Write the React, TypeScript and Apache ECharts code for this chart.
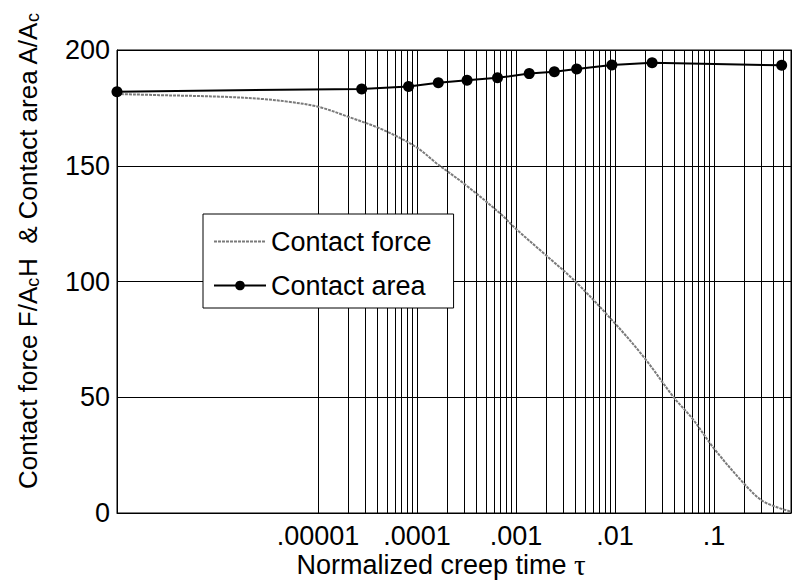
import React, { useEffect, useRef } from "react";
import * as echarts from "echarts";

const FONT = "'Liberation Sans', Arial, sans-serif";

const X_MIN = 9.3e-8;
const X_MAX = 0.6;

// Contact force curve (normalized creep time, F/AcH)
const forceTau = [9.3e-8, 2.5e-7, 1.1e-6, 2.8e-6, 4.9e-6, 1e-5, 2e-5, 4.6e-5, 1e-4, 1.58e-4, 3.1e-4, 6.9e-4, 1e-3, 2e-3, 4e-3, 1e-2, 2e-2, 4e-2, 6e-2, 0.1, 0.2, 0.3, 0.42, 0.6];
const forceVal = [181, 180.5, 179.8, 178.8, 177.7, 175.5, 171.2, 165.4, 157.8, 151, 141.7, 129.4, 122.7, 111.4, 99.9, 81.9, 66.8, 49.5, 41, 27.9, 12.8, 5.6, 2.7, 0.6];

// Contact area points (A/Ac)
const areaTau = [9.3e-8, 2.76e-5, 8.2e-5, 1.64e-4, 3.2e-4, 6.5e-4, 1.36e-3, 2.44e-3, 4.1e-3, 9.3e-3, 2.37e-2, 0.483];
const areaVal = [182.0, 183.2, 184.2, 185.9, 186.9, 188.0, 189.8, 190.6, 191.8, 193.5, 194.5, 193.4];

// Tick labels
const tickValues = [1e-5, 1e-4, 1e-3, 1e-2, 1e-1];
const tickLabels = [".00001", ".0001", ".001", ".01", ".1"];

// Log grid lines (decades and multipliers)
const gridDecades = [1e-5, 1e-4, 1e-3, 1e-2, 1e-1];
const gridMultipliers = [1, 2, 3, 4, 5, 6, 7, 8, 9];

const Y_MIN = 0;
const Y_MAX = 200;

const seriesNames = ["Contact force", "Contact area"];

export default function App() {
  const ref = useRef<HTMLDivElement>(null);

  useEffect(() => {
    if (!ref.current) return;
    const chart = echarts.init(ref.current, undefined, { renderer: "svg" });

    const gridTau: number[] = [];
    gridDecades.forEach((d) => {
      gridMultipliers.forEach((m) => {
        const v = d * m;
        if (v < X_MAX * 0.999) gridTau.push(v);
      });
    });

    const labelFor = (v: number) => {
      for (let i = 0; i < tickValues.length; i++) {
        if (Math.abs(Math.log10(v) - Math.log10(tickValues[i])) < 1e-6) return tickLabels[i];
      }
      return "";
    };

    const option: any = {
      animation: false,
      backgroundColor: "#fff",
      textStyle: { fontFamily: FONT },
      grid: {
        left: 117,
        right: 2,
        top: 50,
        bottom: 71,
        show: true,
        borderColor: "#000",
        borderWidth: 1,
        backgroundColor: "transparent",
      },
      legend: {
        orient: "vertical",
        left: 203,
        top: 214,
        backgroundColor: "#fff",
        borderColor: "#000",
        borderWidth: 1,
        borderRadius: 0,
        padding: [14, 22, 9, 10],
        itemWidth: 52,
        itemHeight: 12,
        itemGap: 17,
        textStyle: { fontSize: 27, color: "#000", fontFamily: FONT },
        data: [
          { name: seriesNames[0], itemStyle: { color: "rgba(0,0,0,0)", opacity: 0, borderWidth: 0 } },
          { name: seriesNames[1] },
        ],
      },
      xAxis: {
        type: "log",
        logBase: 10,
        min: X_MIN,
        max: X_MAX,
        axisLine: { show: true, lineStyle: { color: "#000", width: 1 } },
        axisTick: { show: false },
        splitLine: { show: false },
        axisLabel: {
          fontSize: 27,
          color: "#000",
          fontFamily: FONT,
          margin: 9,
          showMinLabel: false,
          showMaxLabel: false,
          formatter: (v: number) => labelFor(v),
        },
      },
      yAxis: [
        {
          type: "value",
          min: Y_MIN,
          max: Y_MAX,
          interval: 50,
          axisLine: { show: true, lineStyle: { color: "#000", width: 1 } },
          axisTick: { show: true, inside: true, length: 5, lineStyle: { color: "#000" } },
          splitLine: { show: true, lineStyle: { color: "#000", width: 1 } },
          axisLabel: { fontSize: 27, color: "#000", fontFamily: FONT, margin: 7 },
        },
        {
          type: "value",
          position: "right",
          min: Y_MIN,
          max: Y_MAX,
          interval: 50,
          axisLine: { show: true, lineStyle: { color: "#000", width: 1 } },
          axisTick: { show: true, inside: true, length: 5, lineStyle: { color: "#000" } },
          splitLine: { show: false },
          axisLabel: { show: false },
        },
      ],
      series: [
        {
          name: "grid",
          type: "lines",
          coordinateSystem: "cartesian2d",
          xAxisIndex: 0,
          yAxisIndex: 0,
          silent: true,
          z: 1,
          lineStyle: { color: "#000", width: 1, opacity: 1, type: "solid" },
          data: gridTau.map((v) => ({ coords: [[v, Y_MIN], [v, Y_MAX]] })),
        },
        {
          name: seriesNames[0],
          type: "line",
          z: 5,
          data: forceTau.map((t, i) => [t, forceVal[i]]),
          showSymbol: false,
          symbol: "none",
          smooth: 0.35,
          lineStyle: { color: "#7a7a7a", width: 2, type: [3, 1] },
          itemStyle: { color: "#7a7a7a" },
        },
        {
          name: seriesNames[1],
          type: "line",
          z: 6,
          data: areaTau.map((t, i) => [t, areaVal[i]]),
          symbol: "circle",
          symbolSize: 11,
          clip: false,
          lineStyle: { color: "#000", width: 2 },
          itemStyle: { color: "#000" },
        },
      ],
      graphic: [
        {
          type: "text",
          x: 28,
          y: 251,
          rotation: Math.PI / 2,
          style: {
            text: "{n|Contact force F/A}{s|c}{n|H  & Contact area A/A}{s|c}",
            align: "center",
            verticalAlign: "middle",
            fill: "#000",
            rich: {
              n: { fontSize: 26, fontFamily: FONT, lineHeight: 28, fill: "#000" },
              s: { fontSize: 18, fontFamily: FONT, lineHeight: 18, padding: [9, 0, 0, 0], fill: "#000" },
            },
          },
        },
        {
          type: "text",
          x: 441,
          y: 565,
          style: {
            text: "{n|Normalized creep time }{t|τ}",
            align: "center",
            verticalAlign: "middle",
            fill: "#000",
            rich: {
              n: { fontSize: 27, fontFamily: FONT, fill: "#000" },
              t: { fontSize: 29, fontFamily: "'Liberation Serif', 'DejaVu Serif', serif", fill: "#000" },
            },
          },
        },
      ],
    };

    chart.setOption(option);
    return () => chart.dispose();
  }, []);

  return (
    <div
      ref={ref}
      style={{ position: "fixed", left: 0, top: 0, width: 793, height: 584, background: "#fff" }}
    />
  );
}
